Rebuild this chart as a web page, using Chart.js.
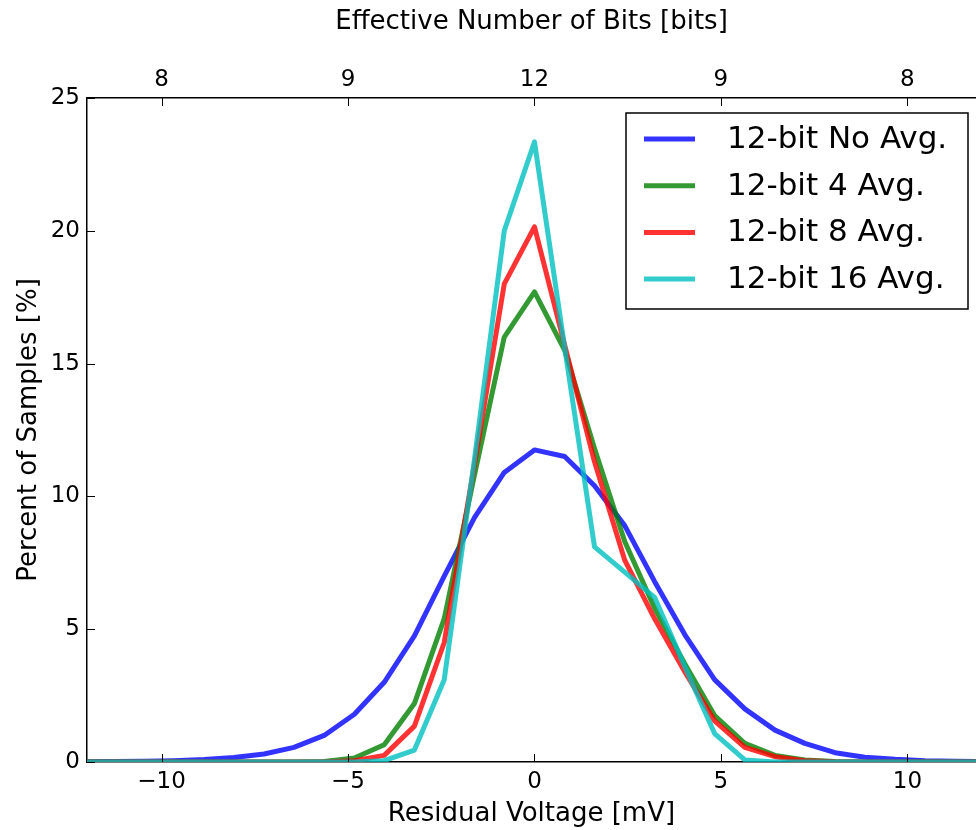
<!DOCTYPE html>
<html>
<head>
<meta charset="utf-8">
<script src="https://cdn.jsdelivr.net/npm/chart.js@4.4.1/dist/chart.umd.min.js"></script>
<style>
  body { margin: 0; background: #fff; }
  #wrap { width: 976px; height: 830px; }
</style>
</head>
<body>
<div id="wrap"><canvas id="residualChart" width="976" height="830"></canvas></div>
<script>
// residual voltage bins [mV]
const voltage = [-12.09, -11.28, -10.47, -9.67, -8.86, -8.06, -7.25, -6.45, -5.64, -4.83,
  -4.03, -3.22, -2.42, -1.61, -0.81, 0, 0.81, 1.61, 2.42, 3.22,
  4.03, 4.83, 5.64, 6.45, 7.25, 8.06, 8.86, 9.67, 10.47, 11.28, 12.09];

// percent of samples per bin
const noAvg = [0.01, 0.02, 0.03, 0.05, 0.09, 0.17, 0.3, 0.55, 1.0, 1.8,
  3.0, 4.75, 7.0, 9.2, 10.9, 11.75, 11.5, 10.4, 8.9, 6.8,
  4.8, 3.1, 2.0, 1.2, 0.7, 0.35, 0.18, 0.1, 0.05, 0.03, 0.01];
const avg4 = [0, 0, 0, 0, 0, 0, 0, 0, 0.02, 0.15,
  0.65, 2.2, 5.4, 10.8, 16.0, 17.7, 15.5, 11.8, 8.3, 5.8,
  3.7, 1.75, 0.7, 0.25, 0.08, 0.02, 0, 0, 0, 0, 0];
const avg8 = [0, 0, 0, 0, 0, 0, 0, 0, 0, 0.05,
  0.25, 1.35, 4.5, 11.2, 18.0, 20.15, 15.7, 11.3, 7.6, 5.4,
  3.4, 1.55, 0.55, 0.2, 0.05, 0.01, 0, 0, 0, 0, 0];
const avg16 = [0, 0, 0, 0, 0, 0, 0, 0, 0, 0,
  0.05, 0.45, 3.1, 11.4, 20.0, 23.35, 15.6, 8.1, 7.15, 6.2,
  3.6, 1.07, 0.08, 0, 0, 0, 0, 0, 0, 0, 0];

const seriesLabels = ['12-bit No Avg.', '12-bit 4 Avg.', '12-bit 8 Avg.', '12-bit 16 Avg.'];

// axis ticks
const xTicks = [-10, -5, 0, 5, 10];
const enobTicks = ['8', '9', '12', '9', '8'];
const yTicks = [0, 5, 10, 15, 20, 25];

const FONT = 'DejaVu Sans';

function toPoints(ys) {
  return ys.map((y, i) => ({ x: voltage[i], y: y }));
}

function makeSet(label, values, color, order) {
  return {
    label: label,
    data: toPoints(values),
    borderColor: color,
    backgroundColor: color,
    borderWidth: 5,
    pointRadius: 0,
    tension: 0,
    fill: false,
    clip: 0,
    order: order,
    borderJoinStyle: 'round'
  };
}

// short tick marks pointing into the plot, like matplotlib classic
const innerTicks = {
  id: 'innerTicks',
  afterDraw(chart) {
    const { ctx, chartArea } = chart;
    const len = 8;
    ctx.save();
    ctx.strokeStyle = '#000';
    ctx.lineWidth = 1;
    ['x', 'x2'].forEach(id => {
      const s = chart.scales[id];
      s.ticks.forEach(t => {
        const px = Math.round(s.getPixelForValue(t.value)) + 0.5;
        ctx.beginPath();
        if (id === 'x') {
          ctx.moveTo(px, chartArea.bottom);
          ctx.lineTo(px, chartArea.bottom - len);
        } else {
          ctx.moveTo(px, chartArea.top);
          ctx.lineTo(px, chartArea.top + len);
        }
        ctx.stroke();
      });
    });
    const ys = chart.scales.y;
    ys.ticks.forEach(t => {
      const py = Math.round(ys.getPixelForValue(t.value)) + 0.5;
      ctx.beginPath();
      ctx.moveTo(chartArea.left, py);
      ctx.lineTo(chartArea.left + len, py);
      ctx.stroke();
    });
    ctx.restore();
  }
};

// boxed legend in the upper right of the plot
const boxLegend = {
  id: 'boxLegend',
  afterDraw(chart) {
    const { ctx, chartArea } = chart;
    const w = 342, h = 196;
    const bx = chartArea.right - 8 - w;
    const by = chartArea.top + 15;
    ctx.save();
    ctx.fillStyle = '#fff';
    ctx.fillRect(bx, by, w, h);
    ctx.strokeStyle = '#000';
    ctx.lineWidth = 1.5;
    ctx.strokeRect(bx, by, w, h);
    ctx.font = '31px "' + FONT + '"';
    ctx.textBaseline = 'middle';
    ctx.fillStyle = '#000';
    chart.data.datasets.forEach((ds, i) => {
      const ry = by + 26 + i * 46.7;
      ctx.strokeStyle = ds.borderColor;
      ctx.lineWidth = 5;
      ctx.beginPath();
      ctx.moveTo(bx + 18, ry);
      ctx.lineTo(bx + 69, ry);
      ctx.stroke();
      ctx.fillText(ds.label, bx + 101, ry + 1);
    });
    ctx.restore();
  }
};

const ctx = document.getElementById('residualChart');

new Chart(ctx, {
  type: 'line',
  data: {
    datasets: [
      makeSet(seriesLabels[0], noAvg, 'rgba(0,0,255,0.8)', 3),
      makeSet(seriesLabels[1], avg4, 'rgba(0,128,0,0.8)', 2),
      makeSet(seriesLabels[2], avg8, 'rgba(255,0,0,0.8)', 1),
      makeSet(seriesLabels[3], avg16, 'rgba(0,191,191,0.8)', 0)
    ]
  },
  options: {
    responsive: false,
    animation: false,
    layout: { padding: 0 },
    plugins: {
      legend: { display: false },
      tooltip: { enabled: false }
    },
    scales: {
      x: {
        type: 'linear',
        position: 'bottom',
        min: -12,
        max: 11.84,
        afterBuildTicks: s => { s.ticks = xTicks.map(v => ({ value: v })); },
        afterFit: s => { s.height = 68; },
        grid: { display: false, drawTicks: false },
        border: { display: true, color: '#000', width: 1.5 },
        ticks: {
          padding: 6,
          color: '#000',
          font: { family: FONT, size: 23 },
          callback: v => (v < 0 ? '\u2212' + Math.abs(v) : String(v))
        },
        title: {
          display: true,
          text: 'Residual Voltage [mV]',
          color: '#000',
          font: { family: FONT, size: 26 },
          padding: { top: 0, bottom: 0 }
        }
      },
      x2: {
        type: 'linear',
        position: 'top',
        min: -12,
        max: 11.84,
        afterBuildTicks: s => { s.ticks = xTicks.map(v => ({ value: v })); },
        afterFit: s => { s.height = 98; },
        grid: { display: false, drawTicks: false },
        border: { display: true, color: '#000', width: 1.5 },
        ticks: {
          padding: 4,
          color: '#000',
          font: { family: FONT, size: 23 },
          callback: v => enobTicks[xTicks.indexOf(v)]
        },
        title: {
          display: true,
          text: 'Effective Number of Bits [bits]',
          color: '#000',
          font: { family: FONT, size: 26 },
          padding: { top: 7, bottom: 0 }
        }
      },
      y: {
        type: 'linear',
        position: 'left',
        min: 0,
        max: 25,
        afterBuildTicks: s => { s.ticks = yTicks.map(v => ({ value: v })); },
        afterFit: s => { s.width = 87; },
        grid: { display: false, drawTicks: false },
        border: { display: true, color: '#000', width: 1.5 },
        ticks: {
          padding: 7,
          color: '#000',
          font: { family: FONT, size: 23 }
        },
        title: {
          display: true,
          text: 'Percent of Samples [%]',
          color: '#000',
          font: { family: FONT, size: 26 },
          padding: { top: 14, bottom: 0 }
        }
      }
    }
  },
  plugins: [innerTicks, boxLegend]
});
</script>
</body>
</html>
